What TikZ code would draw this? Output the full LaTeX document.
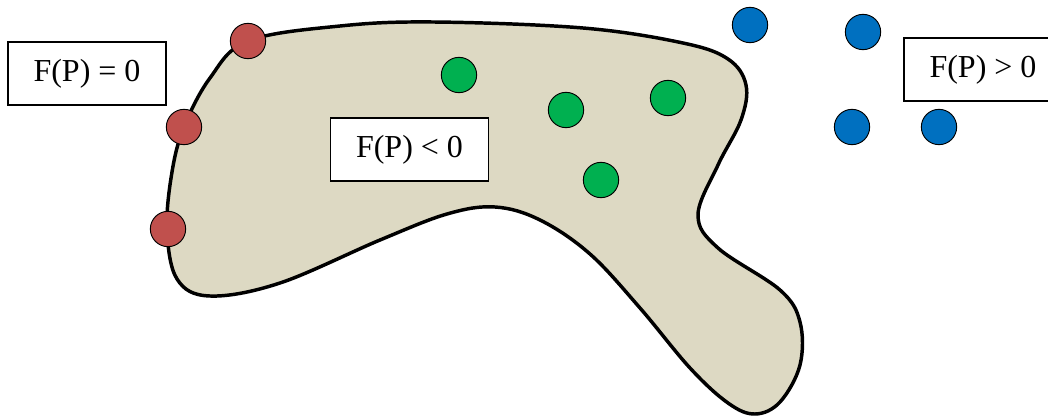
\documentclass[tikz,border=0pt]{standalone}
\usepackage{fontspec}
\setmainfont{Liberation Serif}
\definecolor{blobfill}{HTML}{DDD9C3}
\definecolor{ptred}{HTML}{C0504D}
\definecolor{ptgreen}{HTML}{00B050}
\definecolor{ptblue}{HTML}{0070C0}
\tikzset{
  pt/.style={circle, draw=black, line width=0.7pt, minimum size=26.5pt, inner sep=0pt},
  redpt/.style={pt, fill=ptred},
  greenpt/.style={pt, fill=ptgreen},
  bluept/.style={pt, fill=ptblue},
  labelbox/.style={draw=black, fill=white, line width=1.1pt, minimum width=118.5pt, minimum height=47pt, inner sep=0pt, font=\fontsize{24}{28}\selectfont},
  blob/.style={draw=black, fill=blobfill, line width=2.6pt}
}
\begin{document}
\begin{tikzpicture}[x=0.75pt, y=-0.75pt]
\clip (0,0) rectangle (1048,417);
\fill[white] (0,0) rectangle (1048,417);
% region F(P)<0
\draw[blob] plot[smooth cycle, tension=0.6] coordinates {
 (248,41) (340,26) (433,22) (583,28) (683,43) (728,59) (746,85) (741,120)
 (718,165) (698,215) (718,248) (780,290) (800,322) (800,365) (780,402)
 (755,414) (728,403) (690,368) (640,308) (590,254) (540,220) (495,207)
 (447,214) (380,240) (280,283) (210,296) (177,279) (167,229) (172,172)
 (184,127) (210,78)};
% labels
\node[labelbox] (zero) at (87,73.5) {F(P) = 0};
\node[labelbox] (neg) at (409.5,149.5) {F(P) < 0};
\node[labelbox] (pos) at (983,69.5) {F(P) > 0};
% boundary points
\node[redpt] (r1) at (248,41) {};
\node[redpt] (r2) at (184,127) {};
\node[redpt] (r3) at (168,229) {};
% interior points
\node[greenpt] (g1) at (459,75) {};
\node[greenpt] (g2) at (566,110) {};
\node[greenpt] (g3) at (668,98) {};
\node[greenpt] (g4) at (601,180) {};
% exterior points
\node[bluept] (b1) at (750,25) {};
\node[bluept] (b2) at (863,32) {};
\node[bluept] (b3) at (852,127) {};
\node[bluept] (b4) at (939,127) {};
\end{tikzpicture}
\end{document}
